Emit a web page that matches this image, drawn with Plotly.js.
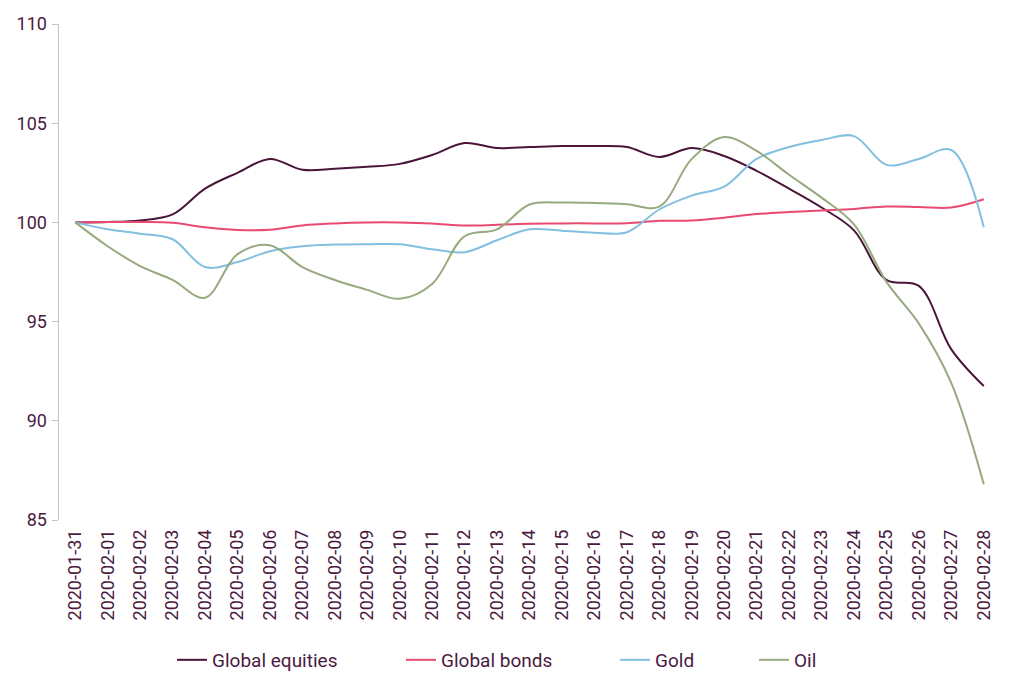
<!DOCTYPE html>
<html>
<head>
<meta charset="utf-8">
<script src="https://cdn.plot.ly/plotly-3.0.1.min.js"></script>
<style>
html,body{margin:0;padding:0;background:#fff;}
#chart{width:1024px;height:682px;}
</style>
</head>
<body>
<div id="chart"></div>
<script>
var dates = ["2020-01-31","2020-02-01","2020-02-02","2020-02-03","2020-02-04","2020-02-05","2020-02-06","2020-02-07","2020-02-08","2020-02-09","2020-02-10","2020-02-11","2020-02-12","2020-02-13","2020-02-14","2020-02-15","2020-02-16","2020-02-17","2020-02-18","2020-02-19","2020-02-20","2020-02-21","2020-02-22","2020-02-23","2020-02-24","2020-02-25","2020-02-26","2020-02-27","2020-02-28"];
var globalEquities = [100, 100.02, 100.1, 100.4, 101.7, 102.5, 103.2, 102.65, 102.7, 102.8, 102.95, 103.4, 104.0, 103.75, 103.8, 103.85, 103.85, 103.8, 103.3, 103.75, 103.35, 102.6, 101.7, 100.75, 99.6, 97.1, 96.8, 93.6, 91.75];
var globalBonds = [100, 100.02, 100.02, 99.98, 99.75, 99.62, 99.63, 99.85, 99.95, 100.0, 100.0, 99.95, 99.84, 99.88, 99.93, 99.95, 99.95, 99.96, 100.08, 100.1, 100.24, 100.42, 100.52, 100.6, 100.68, 100.8, 100.78, 100.75, 101.17];
var gold = [100, 99.65, 99.43, 99.15, 97.75, 98.0, 98.55, 98.8, 98.88, 98.9, 98.9, 98.65, 98.5, 99.1, 99.65, 99.58, 99.48, 99.5, 100.65, 101.35, 101.8, 103.2, 103.8, 104.15, 104.35, 102.9, 103.2, 103.65, 99.75];
var oil = [100, 98.8, 97.8, 97.1, 96.2, 98.4, 98.85, 97.75, 97.1, 96.6, 96.15, 96.9, 99.3, 99.65, 100.9, 101.0, 100.98, 100.92, 100.8, 103.2, 104.3, 103.6, 102.4, 101.25, 99.9, 97.0, 94.9, 91.9, 86.8];

var seriesNames = ["Global equities", "Global bonds", "Gold", "Oil"];
var seriesColors = ["#4a1538", "#e84a72", "#82bfe0", "#96aa7e"];
var seriesValues = [globalEquities, globalBonds, gold, oil];
var legendIds = ["legend", "legend2", "legend3", "legend4"];
var legendX = [0.168, 0.3916, 0.6006, 0.7363];

var textColor = "#4a1a3f";
var fontFam = "Roboto, 'Noto Sans', sans-serif";

var traces = seriesValues.map(function(vals, i){
  return {
    type: "scatter",
    mode: "lines",
    name: seriesNames[i],
    x: dates,
    y: vals,
    line: {color: seriesColors[i], width: 2, shape: "spline", smoothing: 1},
    legend: legendIds[i],
    hoverinfo: "x+y+name"
  };
});

var layout = {
  width: 1024,
  height: 682,
  margin: {l: 59, r: 24, t: 24, b: 162},
  paper_bgcolor: "#fff",
  plot_bgcolor: "#fff",
  font: {family: fontFam, color: textColor},
  showlegend: true,
  xaxis: {
    type: "category",
    range: [-0.5, 28.5],
    automargin: false,
    tickangle: -90,
    showline: false,
    showgrid: false,
    zeroline: false,
    ticks: "",
    tickfont: {size: 18, color: textColor, family: fontFam},
    ticklabelstandoff: 5
  },
  yaxis: {
    range: [85, 110],
    automargin: false,
    dtick: 5,
    tick0: 85,
    showline: true,
    linecolor: "#c4c4c4",
    linewidth: 1.5,
    showgrid: false,
    zeroline: false,
    ticks: "outside",
    ticklen: 6,
    tickcolor: "#c4c4c4",
    tickwidth: 1,
    tickfont: {size: 18, color: textColor, family: fontFam},
    ticklabelstandoff: 1
  }
};

legendIds.forEach(function(id, i){
  layout[id] = {
    xref: "container",
    yref: "container",
    x: legendX[i],
    xanchor: "left",
    y: 0.0323,
    yanchor: "middle",
    orientation: "h",
    bgcolor: "rgba(0,0,0,0)",
    borderwidth: 0,
    font: {size: 19, color: textColor, family: fontFam},
    itemwidth: 30
  };
});

Plotly.newPlot("chart", traces, layout, {displayModeBar: false, staticPlot: true});
</script>
</body>
</html>
